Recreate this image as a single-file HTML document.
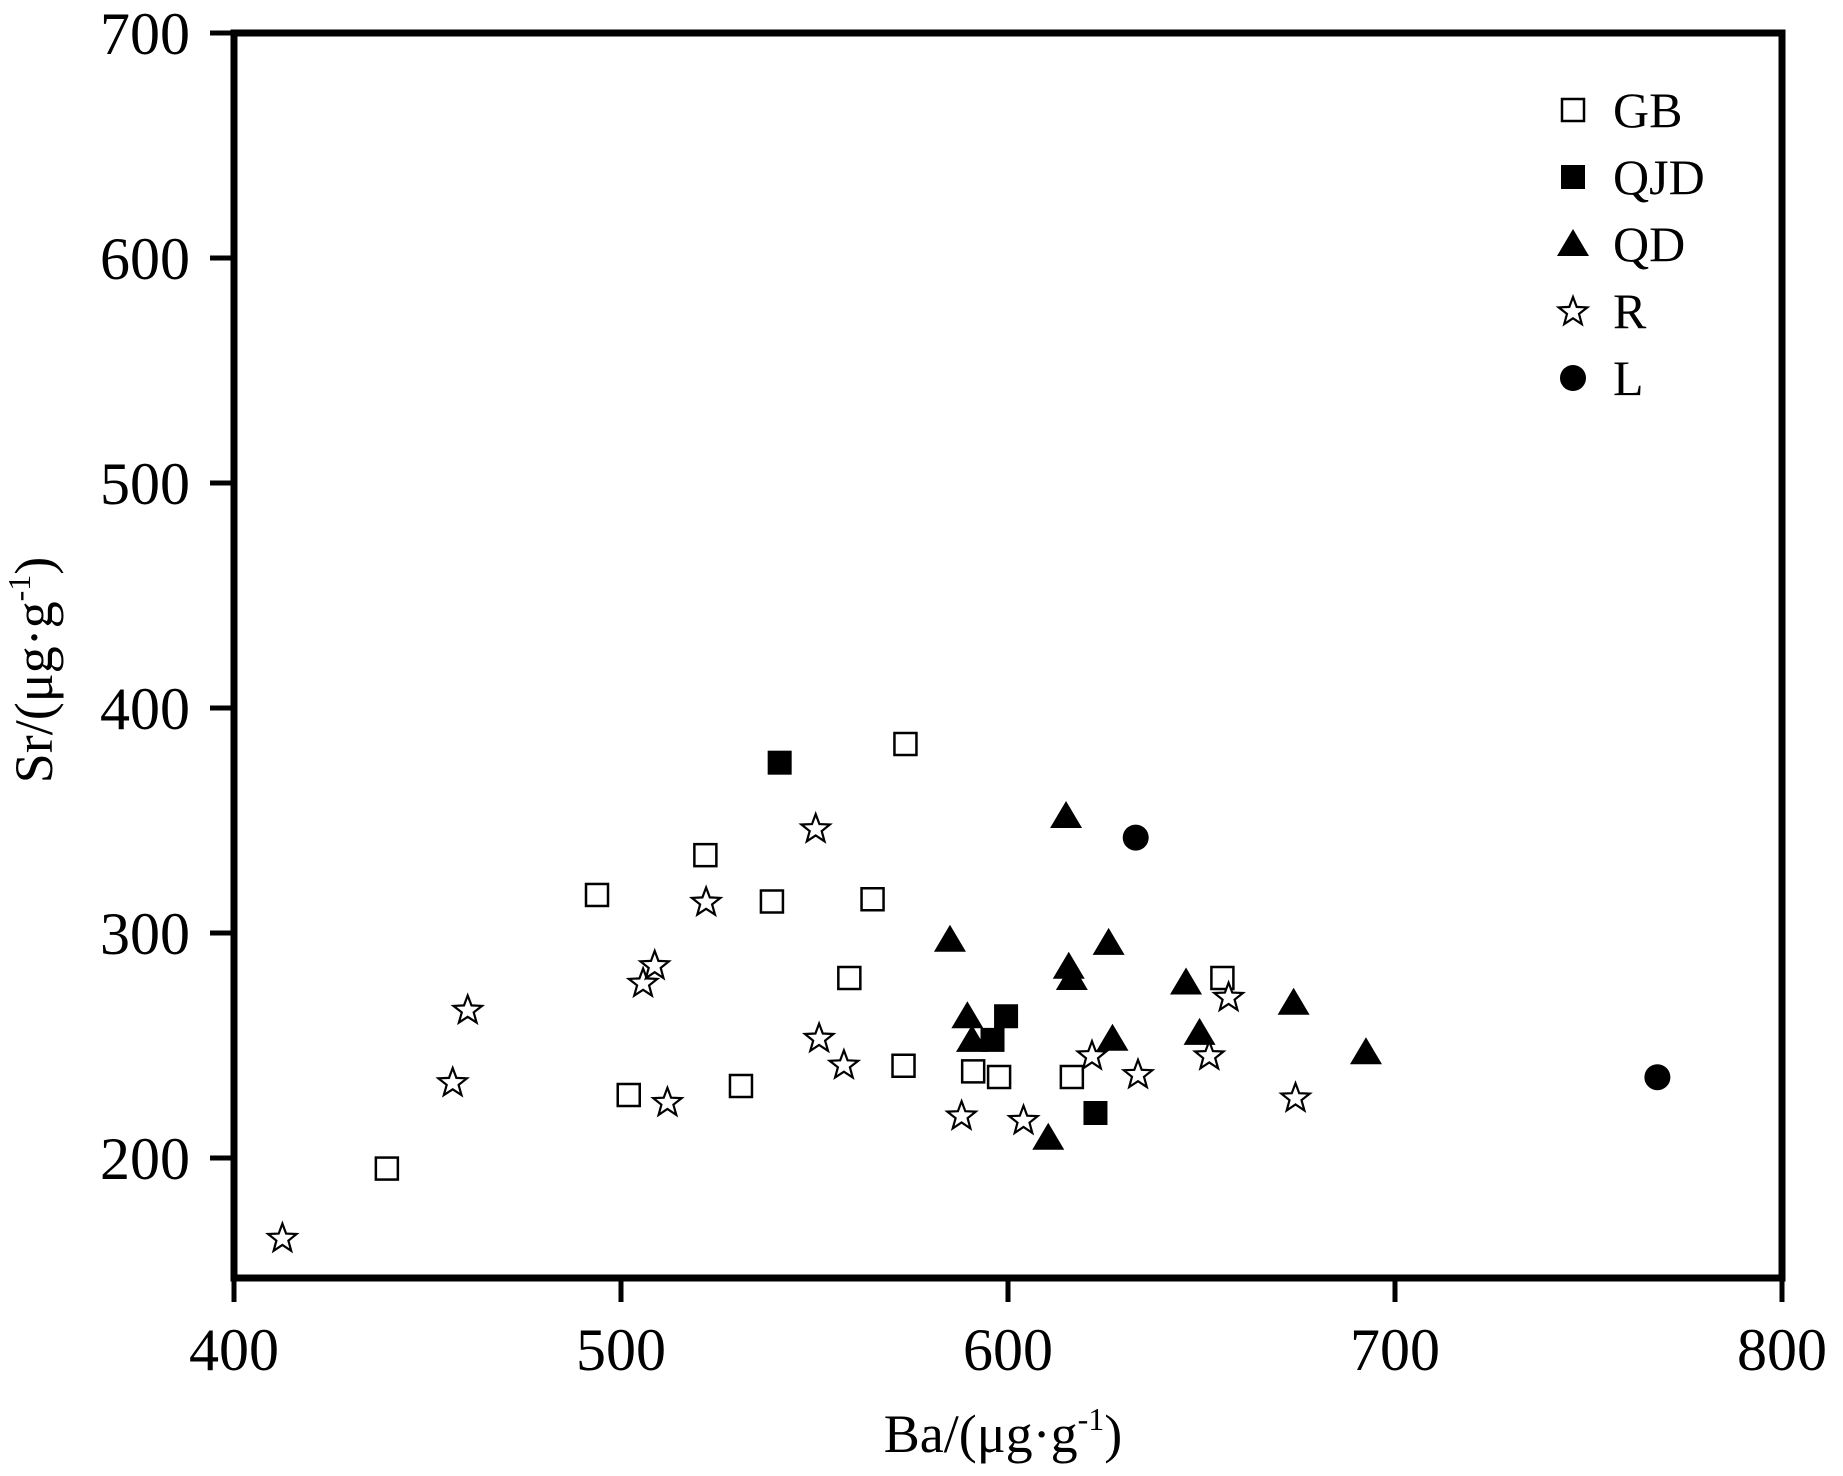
<!DOCTYPE html>
<html><head><meta charset="utf-8"><style>
html,body{margin:0;padding:0;background:#fff;}
svg{display:block;font-family:"Liberation Serif",serif;}
</style></head><body>
<svg id="chart" width="1843" height="1476" viewBox="0 0 1843 1476" xmlns="http://www.w3.org/2000/svg">
<g id="axes"></g>
<g id="marks"></g>
<g id="legend"></g>
<text x="1003" y="1452" font-size="54" text-anchor="middle">Ba/(μg·g<tspan font-size="32" dy="-22">-1</tspan><tspan dy="22">)</tspan></text>
<text transform="translate(52,670) rotate(-90)" font-size="54" text-anchor="middle">Sr/(μg·g<tspan font-size="32" dy="-22">-1</tspan><tspan dy="22">)</tspan></text>
</svg>
<script>
const xTicks=[400,500,600,700,800];
const yTicks=[200,300,400,500,600,700];
const gbX=[439.5,493.8,502,521.8,531,539,559,565,573,573.5,591,597.7,616.5,655.4];
const gbY=[195.3,316.9,228,334.6,232,314,280,315,241,384,238.5,236,236,280];
const qjdX=[541,599.5,596,622.6];
const qjdY=[375.7,263,252.5,220];
const qdX=[615,585,615.7,616.5,626,589.5,590.7,627,646,649.5,673.8,692.5,610.4];
const qdY=[352,297,285,280,295.6,263,252.5,253,278,255.6,269,247,209];
const rX=[412.5,456.5,460.4,505.7,508.7,512,522,550.3,551.2,557.6,588,604,621.7,633.6,652,657,674.3];
const rY=[164.6,233.8,266,278,285.8,225,314,346.6,253.5,241.6,219,217,245.7,237.4,245.7,271.7,227];
const lX=[633,767.8];
const lY=[342.4,235.9];
const legendLabels=["GB","QJD","QD","R","L"];

const X0=234,X1=1782,Y0=1278,Y1=33,xmin=400,xmax=800,ymin=148,ymax=700;
const ypx=(1158-33)/500;
function sx(v){return X0+(v-xmin)/(xmax-xmin)*(X1-X0);}
function sy(v){return 33+(ymax-v)*ypx;}
const NS="http://www.w3.org/2000/svg";
function mk(tag,parent,attrs){const e=document.createElementNS(NS,tag);for(const k in attrs)e.setAttribute(k,attrs[k]);parent.appendChild(e);return e;}
const axes=document.getElementById('axes');
const frame=mk('rect',axes,{x:X0,y:Y1,width:X1-X0,height:Y0-Y1,fill:'none',stroke:'#000','stroke-width':7});


xTicks.forEach(t=>{
  const l=mk('line',axes,{x1:sx(t),x2:sx(t),y1:Y0,y2:Y0+24,stroke:'#000','stroke-width':5});
  
  
  const tx=mk('text',axes,{x:sx(t),y:1370,'font-size':60,'text-anchor':'middle'});
  tx.textContent=t;
  
  
});
yTicks.forEach(t=>{
  const l=mk('line',axes,{x1:X0-24,x2:X0,y1:sy(t),y2:sy(t),stroke:'#000','stroke-width':5});
  
  
  const tx=mk('text',axes,{x:190,y:sy(t)+21,'font-size':60,'text-anchor':'end'});
  tx.textContent=t;
  
  
});
const S=12;
function starPts(cx,cy,r){let p=[];for(let i=0;i<10;i++){const a=-Math.PI/2+i*Math.PI/5;const rr=i%2?r*0.42:r;p.push((cx+rr*Math.cos(a)).toFixed(1)+','+(cy+rr*Math.sin(a)).toFixed(1));}return p.join(' ');}
function marker(kind,cx,cy,parent){
  let e;
  if(kind==="GB")e=mk('rect',parent,{x:cx-S+1,y:cy-S+1,width:2*S-2,height:2*S-2,fill:'#fff',stroke:'#000','stroke-width':2.5});
  else if(kind==="QJD")e=mk('rect',parent,{x:cx-S,y:cy-S,width:2*S,height:2*S,fill:'#000'});
  else if(kind==="QD")e=mk('polygon',parent,{points:`${cx},${cy-15} ${cx+16},${cy+12} ${cx-16},${cy+12}`,fill:'#000'});
  else if(kind==="R")e=mk('polygon',parent,{points:starPts(cx,cy+1,15),fill:'#fff',stroke:'#000','stroke-width':2.2});
  else e=mk('circle',parent,{cx:cx,cy:cy,r:13,fill:'#000'});
  return e;
}
const marks=document.getElementById('marks');
const series=[["GB",gbX,gbY],["QJD",qjdX,qjdY],["QD",qdX,qdY],["R",rX,rY],["L",lX,lY]];
series.forEach(([k,xs,ys])=>{
  xs.forEach((v,i)=>{
    const e=marker(k,sx(v),sy(ys[i]),marks);
    
    
  });
});
const lg=document.getElementById('legend');
legendLabels.forEach((lab,i)=>{
  const y=110+i*67;
  const m=marker(lab,1573,y,lg);
  
  
  const t=mk('text',lg,{x:1613,y:y+17,'font-size':50});
  t.textContent=lab;
  
  
});
</script>
</body></html>
